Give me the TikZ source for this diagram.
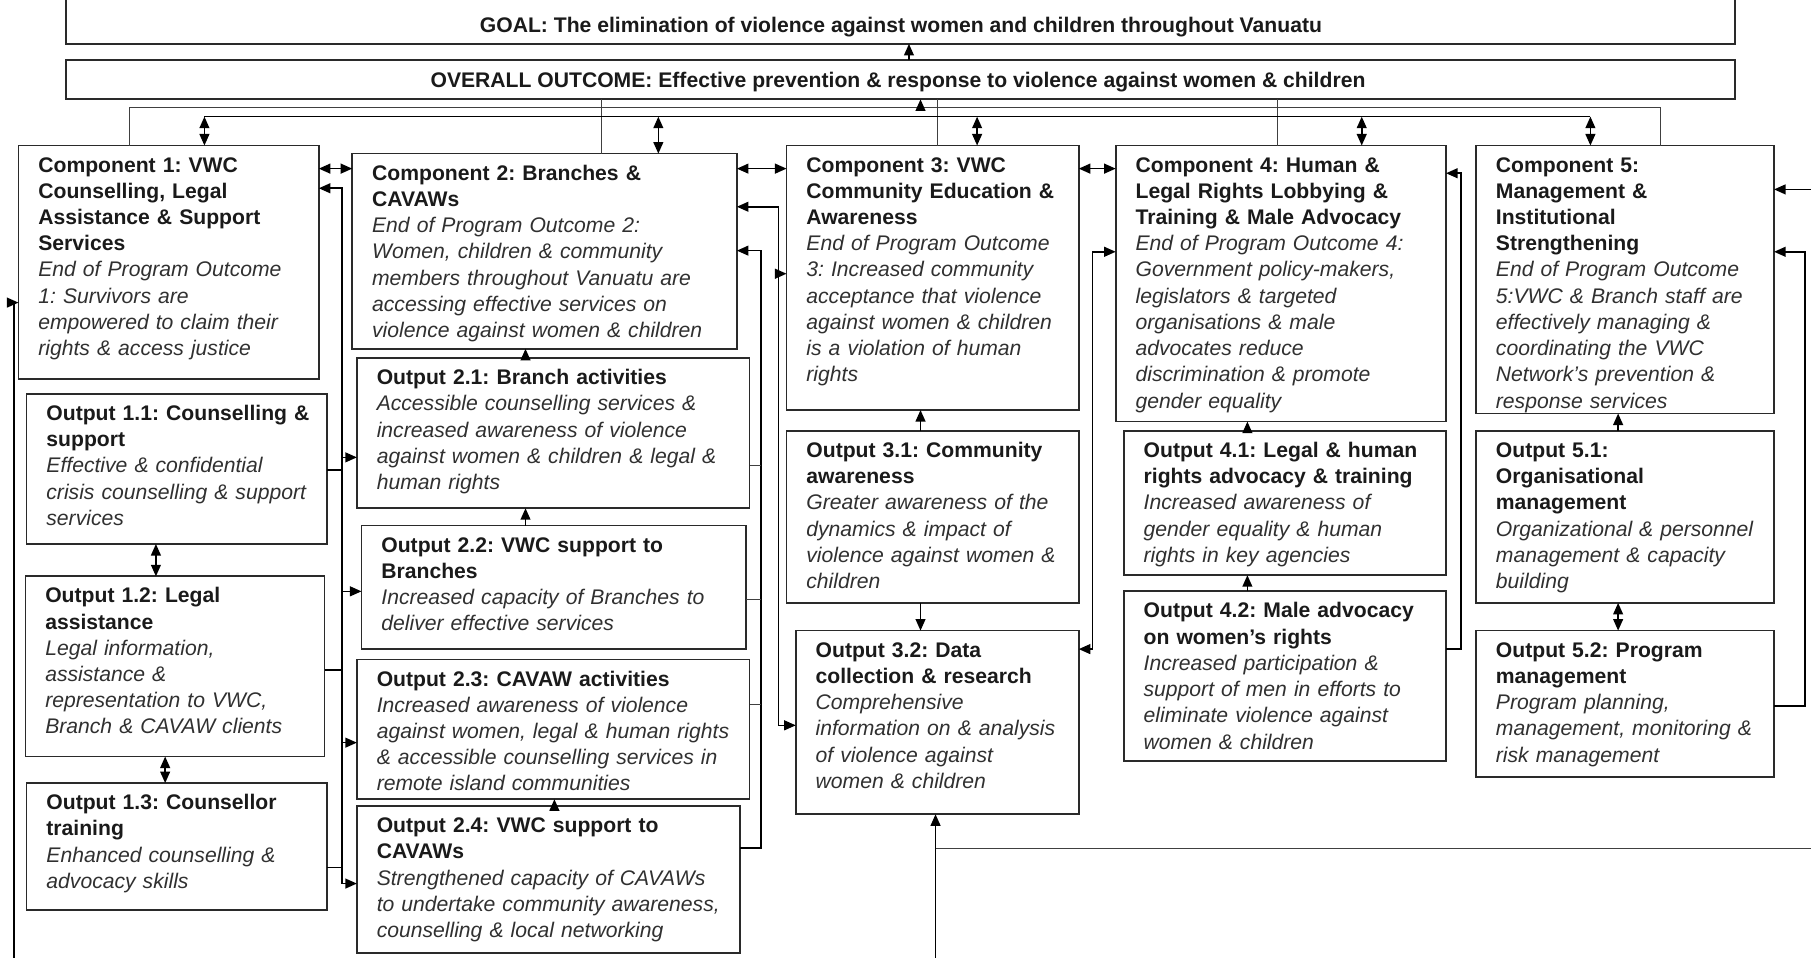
\documentclass[tikz,border=0pt]{standalone}
\usepackage{fontspec}
\setmainfont{Liberation Sans}
\usetikzlibrary{arrows.meta}
\definecolor{bxline}{HTML}{2A2A2A}
\definecolor{txtb}{HTML}{1A1A1A}
\definecolor{txti}{HTML}{303030}
\frenchspacing
\newcommand{\mkbox}[7]{%
  \node[bx, anchor=north west, minimum width={#4-#2}, minimum height={#5-#3}] (#1) at (#2,#3) {};
  \node[tx, anchor=base west] (#1t) at ([xshift=17pt,yshift=-23pt]#1.north west) {\bfseries #6\\{\color{txti}\mdseries\itshape #7}};
}
\begin{document}
\begin{tikzpicture}[x=1pt,y=-1pt,
  bx/.style={draw=bxline, line width=1.5pt, inner sep=0pt, outer sep=0pt, rectangle},
  tx/.style={inner sep=0pt, text width=420pt, align=left, text=txtb, font=\fontsize{18.3}{22.7}\selectfont\frenchspacing},
  ttl/.style={inner sep=0pt, text=txtb, font=\fontsize{18.3}{22}\selectfont\bfseries\frenchspacing},
  ln/.style={line width=1.4pt, draw=black},
  thinln/.style={line width=0.9pt, draw=black!75},
  arr/.style={ln, -{Triangle[length=10pt,width=8.5pt]}},
  dbl/.style={ln, {Triangle[length=10pt,width=8.5pt]}-{Triangle[length=10pt,width=8.5pt]}},
]
\useasboundingbox (0,0) rectangle (1568,829);
\clip (0,0) rectangle (1568,829);

% goal and overall outcome
\node[bx, anchor=north west, minimum width=1445, minimum height=50] (goal) at (57,-12) {};
\node[ttl, anchor=base] (goalt) at (780,28.5) {GOAL: The elimination of violence against women and children throughout Vanuatu};
\node[bx, anchor=north west, minimum width=1445, minimum height=34] (overall) at (57,52) {};
\node[ttl, anchor=base] (ovt) at (777.5,75.5) {OVERALL OUTCOME: Effective prevention \& response to violence against women \& children};

% components
\mkbox{c1}{16}{126}{276}{328}{Component 1: VWC\\Counselling, Legal\\Assistance \& Support\\Services}{End of Program Outcome\\1: Survivors are\\empowered to claim their\\rights \& access justice}
\mkbox{c2}{305}{133}{638}{302}{Component 2: Branches \&\\CAVAWs}{End of Program Outcome 2:\\Women, children \& community\\members throughout Vanuatu are\\accessing effective services on\\violence against women \& children}
\mkbox{c3}{681}{126}{934}{355}{Component 3: VWC\\Community Education \&\\Awareness}{End of Program Outcome\\3: Increased community\\acceptance that violence\\against women \& children\\is a violation of human\\rights}
\mkbox{c4}{966}{126}{1252}{365}{Component 4: Human \&\\Legal Rights Lobbying \&\\Training \& Male Advocacy}{End of Program Outcome 4:\\Government policy-makers,\\legislators \& targeted\\organisations \& male\\advocates reduce\\discrimination \& promote\\gender equality}
\mkbox{c5}{1278}{126}{1536}{358}{Component 5:\\Management \&\\Institutional\\Strengthening}{End of Program Outcome\\5:VWC \& Branch staff are\\effectively managing \&\\coordinating the VWC\\Network's prevention \&\\response services}

% outputs
\mkbox{o11}{23}{341}{283}{471}{Output 1.1: Counselling \&\\support}{Effective \& confidential\\crisis counselling \& support\\services}
\mkbox{o12}{22}{499}{281}{655}{Output 1.2: Legal\\assistance}{Legal information,\\assistance \&\\representation to VWC,\\Branch \& CAVAW clients}
\mkbox{o13}{23}{678}{283}{788}{Output 1.3: Counsellor\\training}{Enhanced counselling \&\\advocacy skills}
\mkbox{o21}{309}{310}{649}{440}{Output 2.1: Branch activities}{Accessible counselling services \&\\increased awareness of violence\\against women \& children \& legal \&\\human rights}
\mkbox{o22}{313}{455}{646}{562}{Output 2.2: VWC support to\\Branches}{Increased capacity of Branches to\\deliver effective services}
\mkbox{o23}{309}{571}{649}{692}{Output 2.3: CAVAW activities}{Increased awareness of violence\\against women, legal \& human rights\\\& accessible counselling services in\\remote island communities}
\mkbox{o24}{309}{698}{641}{825}{Output 2.4: VWC support to\\CAVAWs}{Strengthened capacity of CAVAWs\\to undertake community awareness,\\counselling \& local networking}
\mkbox{o31}{681}{373}{934}{522}{Output 3.1: Community\\awareness}{Greater awareness of the\\dynamics \& impact of\\violence against women \&\\children}
\mkbox{o32}{689}{546}{934}{705}{Output 3.2: Data\\collection \& research}{Comprehensive\\information on \& analysis\\of violence against\\women \& children}
\mkbox{o41}{973}{373}{1252}{498}{Output 4.1: Legal \& human\\rights advocacy \& training}{Increased awareness of\\gender equality \& human\\rights in key agencies}
\mkbox{o42}{973}{512}{1252}{659}{Output 4.2: Male advocacy\\on women's rights}{Increased participation \&\\support of men in efforts to\\eliminate violence against\\women \& children}
\mkbox{o51}{1278}{373}{1536}{522}{Output 5.1:\\Organisational\\management}{Organizational \& personnel\\management \& capacity\\building}
\mkbox{o52}{1278}{546}{1536}{673}{Output 5.2: Program\\management}{Program planning,\\management, monitoring \&\\risk management}

% ---- top connectors
\coordinate (ga) at (787,45);
\draw[arr] (overall.north -| ga) -- (goal.south -| ga);
\coordinate (ua) at (112,93);
\coordinate (ub) at (1438,93);
\draw[thinln] (c1.north -| ua) -- (ua) -- (ub) -- (c5.north -| ub);
\coordinate (up) at (797,93);
\draw[arr] (up) -- (overall.south -| up);
\coordinate (v2) at (521,0);
\coordinate (v3) at (812,0);
\coordinate (v4) at (1106,0);
\draw[thinln] (overall.south -| v2) -- (c2.north -| v2);
\draw[thinln] (overall.south -| v3) -- (c3.north -| v3);
\draw[thinln] (overall.south -| v4) -- (c4.north -| v4);
\coordinate (d1) at (177,101);
\coordinate (d2) at (570,101);
\coordinate (d3) at (846,101);
\coordinate (d4) at (1179,101);
\coordinate (d5) at (1377,101);
\draw[ln] (d1) -- (d5);
\draw[dbl] (d1) -- (c1.north -| d1);
\draw[dbl] (d2) -- (c2.north -| d2);
\draw[dbl] (d3) -- (c3.north -| d3);
\draw[dbl] (d4) -- (c4.north -| d4);
\draw[dbl] (d5) -- (c5.north -| d5);

% ---- component to component
\coordinate (y146) at (0,146);
\draw[dbl] (c1.east |- y146) -- (c2.west |- y146);
\draw[dbl] (c2.east |- y146) -- (c3.west |- y146);
\draw[dbl] (c3.east |- y146) -- (c4.west |- y146);

% ---- left outer line into component 1
\coordinate (lo) at (12,262);
\coordinate (lob) at (12,840);
\draw[arr] (lob) -- (lo) -- (c1.west |- lo);

% ---- left bus (outputs 1.x -> component 1, outputs 2.x)
\coordinate (lbt) at (296,163);
\coordinate (lbb) at (296,765);
\draw[arr] (lbb) -- (lbt) -- (c1.east |- lbt);
\draw[arr] (lbt) -- (lbb) -- (o24.west |- lbb);
\coordinate (s11) at (296,407);
\coordinate (s12) at (296,580);
\coordinate (s13) at (296,751);
\draw[ln] (o11.east |- s11) -- (s11);
\draw[ln] (o12.east |- s12) -- (s12);
\draw[ln] (o13.east |- s13) -- (s13);
\coordinate (a21) at (296,396);
\coordinate (a22) at (296,512);
\coordinate (a23) at (296,643);
\draw[arr] (a21) -- (o21.west |- a21);
\draw[arr] (a22) -- (o22.west |- a22);
\draw[arr] (a23) -- (o23.west |- a23);

% ---- right of component 2 bus (outputs 2.x -> component 2)
\coordinate (r2t) at (659,217);
\coordinate (r2b) at (659,734);
\draw[arr] (o24.east |- r2b) -- (r2b) -- (r2t) -- (c2.east |- r2t);
\coordinate (r21) at (659,403);
\coordinate (r22) at (659,519);
\coordinate (r23) at (659,610);
\draw[thinln] (o21.east |- r21) -- (r21);
\draw[thinln] (o22.east |- r22) -- (r22);
\draw[thinln] (o23.east |- r23) -- (r23);

% ---- bus at x=674
\coordinate (r3t) at (674,179);
\coordinate (r3m) at (674,237);
\coordinate (r3b) at (674,628);
\draw[arr] (r3m) -- (r3t) -- (c2.east |- r3t);
\draw[arr] (r3m) -- (r3b) -- (o32.west |- r3b);
\draw[arr] (r3m) -- (c3.west |- r3m);

% ---- bus between component 3 and 4
\coordinate (b4t) at (946,218);
\coordinate (b4m) at (946,400);
\coordinate (b4b) at (946,562);
\draw[arr] (b4m) -- (b4t) -- (c4.west |- b4t);
\draw[arr] (b4m) -- (b4b) -- (o32.east |- b4b);

% ---- bus right of component 4
\coordinate (b5t) at (1265,150);
\coordinate (b5b) at (1265,562);
\draw[arr] (o42.east |- b5b) -- (b5b) -- (b5t) -- (c4.east |- b5t);

% ---- right of component 5
\coordinate (e1) at (1575,164);
\draw[arr] (e1) -- (c5.east |- e1);
\coordinate (b6t) at (1563,218);
\coordinate (b6b) at (1563,611);
\draw[arr] (o52.east |- b6b) -- (b6b) -- (b6t) -- (c5.east |- b6t);

% ---- within columns
\coordinate (x135) at (135,0);
\coordinate (x143) at (143,0);
\coordinate (x455) at (455,0);
\coordinate (x480) at (480,0);
\coordinate (x797) at (797,0);
\coordinate (x1080) at (1080,0);
\coordinate (x1401) at (1401,0);
\draw[dbl] (o11.south -| x135) -- (o12.north -| x135);
\draw[dbl] (o12.south -| x143) -- (o13.north -| x143);
\draw[arr] (o21.north -| x455) -- (c2.south -| x455);
\draw[arr] (o22.north -| x455) -- (o21.south -| x455);
\draw[arr] (o24.north -| x480) -- (o23.south -| x480);
\draw[arr] (o31.north -| x797) -- (c3.south -| x797);
\draw[arr] (o31.south -| x797) -- (o32.north -| x797);
\draw[arr] (o41.north -| x1080) -- (c4.south -| x1080);
\draw[arr] (o42.north -| x1080) -- (o41.south -| x1080);
\draw[arr] (o51.north -| x1401) -- (c5.south -| x1401);
\draw[dbl] (o51.south -| x1401) -- (o52.north -| x1401);

% ---- bottom
\coordinate (bb) at (810,840);
\draw[arr] (bb) -- (o32.south -| bb);
\coordinate (hb1) at (810,735);
\coordinate (hb2) at (1575,735);
\draw[thinln] (hb1) -- (hb2);
\end{tikzpicture}
\end{document}
